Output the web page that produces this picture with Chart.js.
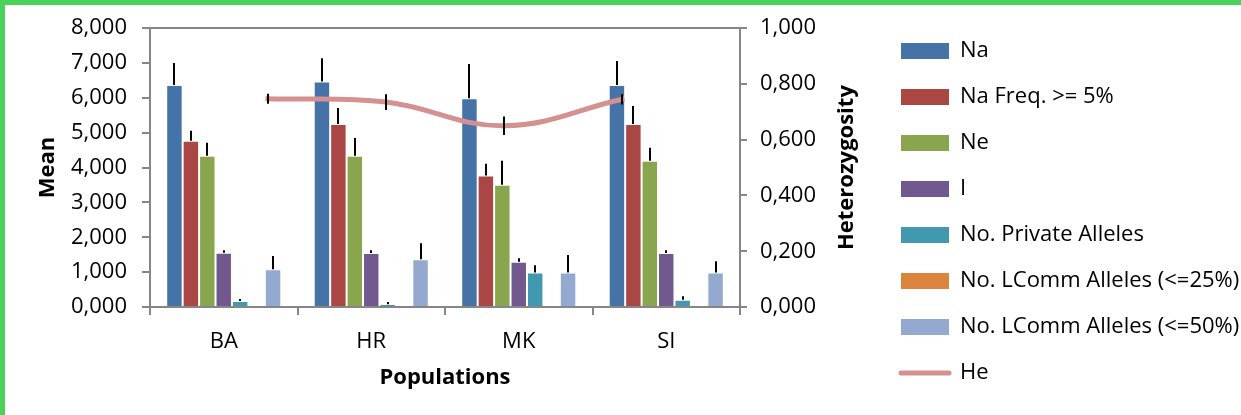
<!DOCTYPE html>
<html>
<head>
<meta charset="utf-8">
<title>Genetic diversity by population</title>
<script src="https://cdn.jsdelivr.net/npm/chart.js@4.4.1/dist/chart.umd.min.js"></script>
<style>
  html, body { margin: 0; padding: 0; background: #fff; }
  #wrap { position: relative; width: 1241px; height: 415px; overflow: hidden; }
  #chart { position: absolute; left: 0; top: 0; }
  .edge { position: absolute; background: #4AD25B; }
  #edge-top { left: 0; top: 0; width: 1241px; height: 5px; }
  #edge-left { left: 0; top: 0; width: 5px; height: 415px; }
</style>
</head>
<body>
<div id="wrap">
  <canvas id="chart" width="1241" height="415"></canvas>
  <div class="edge" id="edge-top"></div>
  <div class="edge" id="edge-left"></div>
</div>
<script>
// Populations on the category axis
const populations = ['BA', 'HR', 'MK', 'SI'];

// Means per population (left axis) and their standard errors
const na = [6.37, 6.47, 5.99, 6.37];
const naSE = [0.63, 0.67, 0.98, 0.69];
const naFreq5 = [4.77, 5.25, 3.77, 5.25];
const naFreq5SE = [0.29, 0.46, 0.34, 0.52];
const ne = [4.34, 4.34, 3.51, 4.20];
const neSE = [0.37, 0.51, 0.69, 0.37];
const shannonI = [1.56, 1.55, 1.30, 1.55];
const shannonISE = [0.07, 0.08, 0.10, 0.08];
const privateAlleles = [0.17, 0.08, 0.99, 0.21];
const privateAllelesSE = [0.06, 0.06, 0.21, 0.10];
const lcomm25 = [0, 0, 0, 0];
const lcomm50 = [1.08, 1.37, 0.99, 0.99];
const lcomm50SE = [0.38, 0.46, 0.50, 0.32];

// Expected heterozygosity (right axis) and standard errors
const he = [0.747, 0.735, 0.650, 0.745];
const heSE = [0.018, 0.028, 0.033, 0.019];

// Tick labels (comma decimal separator)
const meanTicks = ['0,000', '1,000', '2,000', '3,000', '4,000', '5,000', '6,000', '7,000', '8,000'];
const heTicks = ['0,000', '0,200', '0,400', '0,600', '0,800', '1,000'];

const AXIS_GREY = '#868686';
const FONT = "'Open Sans', sans-serif";

// Bars are grouped only by the x axis the bar series use; the He line
// sits on its own secondary x axis and must not take a slot in the groups.
const barProto = Chart.BarController && Chart.BarController.prototype;
if (barProto && typeof barProto._getAxis === 'function') {
  barProto._getAxis = function () {
    const first = this.getFirstScaleIdForIndexAxis();
    const ids = new Set();
    for (const ds of this.chart.data.datasets) {
      if ((ds.type || this.chart.config.type) === 'bar') ids.add(ds.xAxisID || first);
    }
    return Array.from(ids);
  };
}

// Upward error bars on the bars, symmetric ones on the He line
const errorBars = {
  id: 'errorBars',
  afterDatasetsDraw(chart) {
    const ctx = chart.ctx;
    ctx.save();
    ctx.strokeStyle = '#000';
    ctx.lineWidth = 2;
    chart.data.datasets.forEach((ds, di) => {
      if (!ds.errors) return;
      const meta = chart.getDatasetMeta(di);
      const yScale = chart.scales[meta.yAxisID];
      meta.data.forEach((el, i) => {
        const e = ds.errors[i];
        if (!e) return;
        const isLine = ds.type === 'line';
        const v = isLine ? ds.data[i].y : ds.data[i];
        const yLow = yScale.getPixelForValue(isLine ? v - e : v);
        const yHigh = yScale.getPixelForValue(v + e);
        const x = Math.round(el.x);
        ctx.beginPath();
        ctx.moveTo(x, yLow);
        ctx.lineTo(x, yHigh);
        ctx.stroke();
      });
    });
    ctx.restore();
  }
};

// Right axis title, reading bottom to top like the left one
const rightAxisTitle = {
  id: 'rightAxisTitle',
  afterDraw(chart) {
    const s = chart.scales.y2;
    const ctx = chart.ctx;
    ctx.save();
    ctx.font = 'bold 22px ' + FONT;
    ctx.fillStyle = '#000';
    ctx.textAlign = 'center';
    ctx.textBaseline = 'middle';
    ctx.translate(s.left + 107, (s.top + s.bottom) / 2);
    ctx.rotate(-Math.PI / 2);
    ctx.fillText('Heterozygosity', 0, 0);
    ctx.restore();
  }
};

function barSet(label, data, color, errors) {
  return {
    type: 'bar',
    label: label,
    data: data,
    errors: errors,
    backgroundColor: color,
    borderColor: 'rgba(255,255,255,0.28)',
    borderWidth: 1,
    borderSkipped: 'start',
    xAxisID: 'x',
    yAxisID: 'y',
    order: 1
  };
}

function build() {
  Chart.defaults.font.family = FONT;
  Chart.defaults.font.size = 22;
  Chart.defaults.color = '#000';

  new Chart(document.getElementById('chart'), {
    type: 'bar',
    data: {
      labels: populations,
      datasets: [
        barSet('Na', na, '#4572A7', naSE),
        barSet('Na Freq. >= 5%', naFreq5, '#AA4643', naFreq5SE),
        barSet('Ne', ne, '#89A54E', neSE),
        barSet('I', shannonI, '#71588F', shannonISE),
        barSet('No. Private Alleles', privateAlleles, '#4198AF', privateAllelesSE),
        barSet('No. LComm Alleles (<=25%)', lcomm25, '#DB843D', null),
        barSet('No. LComm Alleles (<=50%)', lcomm50, '#93A9CF', lcomm50SE),
        {
          type: 'line',
          label: 'He',
          data: he.map((v, i) => ({ x: i + 1, y: v })),
          errors: heSE,
          borderColor: '#D4918F',
          backgroundColor: '#D4918F',
          borderWidth: 5,
          borderCapStyle: 'square',
          pointRadius: 0,
          tension: 0.4,
          fill: false,
          xAxisID: 'x2',
          yAxisID: 'y2',
          order: 0
        }
      ]
    },
    options: {
      responsive: false,
      animation: false,
      events: [],
      layout: { padding: { top: 9, bottom: 0, left: 0, right: 0 } },
      datasets: {
        bar: { categoryPercentage: 0.78, barPercentage: 1 }
      },
      scales: {
        x: {
          type: 'category',
          position: 'bottom',
          offset: true,
          grid: { offset: true, drawOnChartArea: false, tickLength: 8, color: AXIS_GREY, lineWidth: 2 },
          border: { color: AXIS_GREY, width: 2 },
          ticks: { padding: 14, color: '#000' },
          title: { display: true, text: 'Populations', font: { weight: 'bold', size: 22 }, padding: { top: 0, bottom: 24 } },
          afterFit(s) { s.height = 108; }
        },
        x2: {
          type: 'linear',
          position: 'top',
          min: 0,
          max: 5,
          offset: false,
          ticks: { display: false },
          grid: { offset: false, drawOnChartArea: false, drawTicks: false },
          border: { color: AXIS_GREY, width: 2 },
          afterFit(s) { s.height = 18; }
        },
        y: {
          position: 'left',
          min: 0,
          max: 8,
          ticks: { stepSize: 1, padding: 15, callback: (v, i) => meanTicks[i] },
          grid: { drawOnChartArea: false, tickLength: 8, color: AXIS_GREY, lineWidth: 2 },
          border: { color: AXIS_GREY, width: 2 },
          title: { display: true, text: 'Mean', font: { weight: 'bold', size: 22 }, padding: { top: 35, bottom: 0 } },
          afterFit(s) { s.width = 150; }
        },
        y2: {
          position: 'right',
          min: 0,
          max: 1,
          ticks: { stepSize: 0.2, padding: 13, callback: (v, i) => heTicks[i] },
          grid: { drawOnChartArea: false, tickLength: 7, color: AXIS_GREY, lineWidth: 2 },
          border: { color: AXIS_GREY, width: 2 },
          afterFit(s) { s.width = 137; }
        }
      },
      plugins: {
        tooltip: { enabled: false },
        legend: {
          position: 'right',
          align: 'center',
          maxWidth: 364,
          labels: {
            usePointStyle: true,
            pointStyleWidth: 48,
            boxHeight: 16,
            padding: 24,
            color: '#000',
            font: { size: 22 },
            sort: (a, b) => a.datasetIndex - b.datasetIndex,
            generateLabels(chart) {
              const items = Chart.defaults.plugins.legend.labels.generateLabels(chart);
              return items.map(item => {
                const ds = chart.data.datasets[item.datasetIndex];
                if (ds.type === 'line') {
                  item.pointStyle = 'line';
                  item.strokeStyle = ds.borderColor;
                  item.lineWidth = 5;
                  item.lineCap = 'round';
                } else {
                  item.pointStyle = 'rect';
                  item.fillStyle = ds.backgroundColor;
                  item.lineWidth = 0;
                  item.strokeStyle = 'rgba(0,0,0,0)';
                }
                return item;
              });
            }
          }
        }
      }
    },
    plugins: [errorBars, rightAxisTitle]
  });
}

const fontLoads = document.fonts
  ? Promise.all([document.fonts.load('22px "Open Sans"'), document.fonts.load('bold 22px "Open Sans"')])
  : Promise.resolve();
fontLoads.then(build, build);
</script>
</body>
</html>
